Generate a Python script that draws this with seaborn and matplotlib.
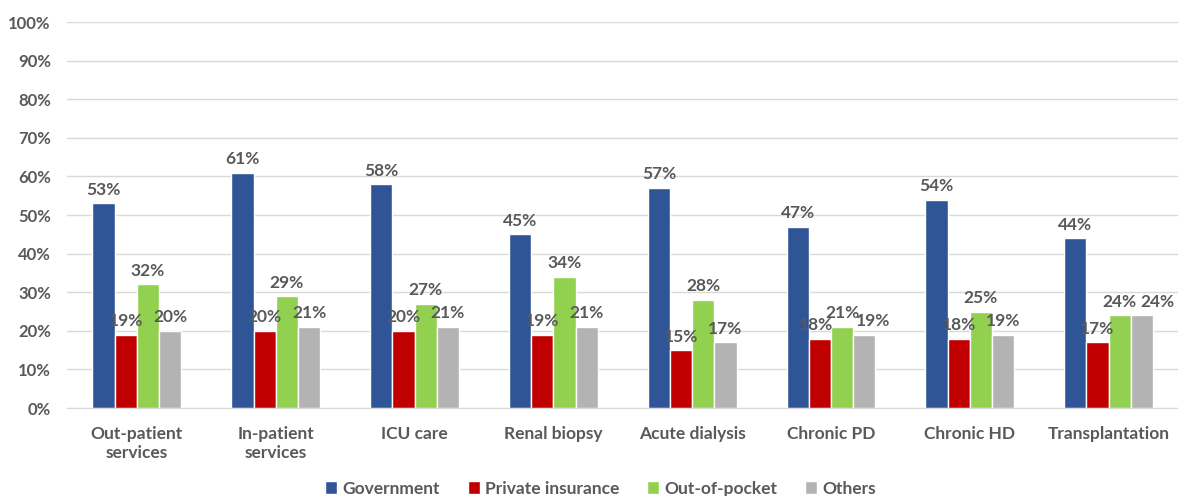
import pandas as pd
import matplotlib.pyplot as plt
import seaborn as sns

# Data
categories = ["Out-patient\nservices", "In-patient\nservices", "ICU care", "Renal biopsy",
              "Acute dialysis", "Chronic PD", "Chronic HD", "Transplantation"]
series = ["Government", "Private insurance", "Out-of-pocket", "Others"]
government = [53, 61, 58, 45, 57, 47, 54, 44]
private_insurance = [19, 20, 20, 19, 15, 18, 18, 17]
out_of_pocket = [32, 29, 27, 34, 28, 21, 25, 24]
others = [20, 21, 21, 21, 17, 19, 19, 24]
colors = ["#2F5597", "#C00000", "#92D050", "#B3B3B3"]

rows = []
for name, vals in zip(series, [government, private_insurance, out_of_pocket, others]):
    for cat, v in zip(categories, vals):
        rows.append({"category": cat, "source": name, "value": v})
df = pd.DataFrame(rows)

sns.set_style("white")
plt.rcParams['font.family'] = ['Lato', 'DejaVu Sans']
text_color = "#595959"

fig = plt.figure(figsize=(11.78, 4.96), dpi=100)
ax = fig.add_axes([0.0573, 0.1774, 0.9427, 0.7782])

sns.barplot(data=df, x="category", y="value", hue="source", hue_order=series,
            order=categories, palette=colors, width=0.64, gap=0,
            saturation=1, ax=ax, legend=True)

for i, cont in enumerate(ax.containers):
    anns = ax.bar_label(cont, fmt="%d%%", padding=4, fontsize=12.5, fontweight="bold",
                        color=text_color)
    # nudge crowded labels in "Chronic PD" and "Transplantation"
    if i == 1:
        anns[5].xyann = (-3, 4)
    if i == 3:
        anns[5].xyann = (6, 4)
        anns[-1].xyann = (11, 4)

ax.set_ylim(0, 100)
ax.set_xlim(-0.5, 7.5)
ax.set_yticks(range(0, 101, 10))
ax.set_yticklabels([f"{t}%" for t in range(0, 101, 10)])
ax.yaxis.grid(True, color="#D9D9D9", linewidth=1)
ax.set_axisbelow(True)
for s in ["top", "right", "left"]:
    ax.spines[s].set_visible(False)
ax.spines["bottom"].set_color("#D9D9D9")
ax.tick_params(axis="y", length=0, labelsize=12, labelcolor=text_color, pad=12)
ax.tick_params(axis="x", length=0, labelsize=12.5, labelcolor=text_color, pad=13)
for lab in ax.get_xticklabels() + ax.get_yticklabels():
    lab.set_fontweight("bold")
ax.set_xlabel("")
ax.set_ylabel("")

leg = ax.legend(loc="lower center", bbox_to_anchor=(0.48, -0.27), ncol=4, frameon=False,
                fontsize=12.5, handlelength=0.7, handleheight=0.7, handletextpad=0.3,
                columnspacing=1.6)
for t in leg.get_texts():
    t.set_color(text_color)
    t.set_fontweight("bold")

fig.savefig("out.png", dpi=100)
